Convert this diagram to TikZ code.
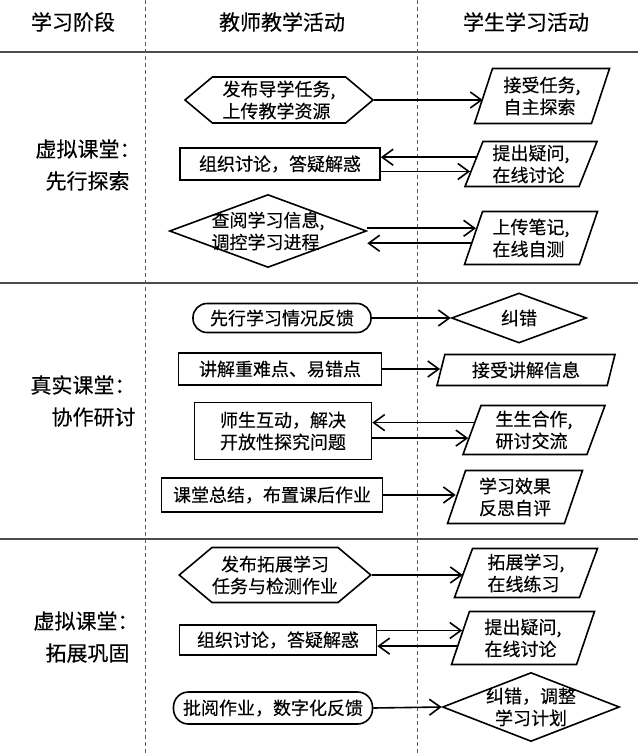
\documentclass[tikz,border=0pt]{standalone}
\usepackage{fontspec}
\setmainfont{Noto Sans CJK SC}[FakeBold=0.3]
\usetikzlibrary{arrows.meta,shapes.geometric,shapes.symbols}

\tikzset{
  box/.style={draw,line width=1.6pt,inner sep=0pt,font=\fontsize{18}{22}\selectfont,align=center},
  rbox/.style={box,rectangle},
  oval/.style={box,rectangle,rounded corners=14pt},
  hexa/.style={box,signal,signal to=west and east,signal pointer angle=80,align=left},
  dia/.style={box,diamond,aspect=2.6,inner sep=-6pt},
  para/.style={box,trapezium,trapezium left angle=65,trapezium right angle=115,
    trapezium stretches body,align=left},
  arr/.style={line width=1.6pt,-{Straight Barb[length=11pt,width=16pt]}},
  sep/.style={line width=1.2pt,black!70},
  col/.style={line width=1pt,black!65,dash pattern=on 4pt off 3pt},
  head/.style={font=\fontsize{21}{26}\selectfont},
  stage/.style={font=\fontsize{21}{32}\selectfont,align=left,anchor=west}
}

\begin{document}
\begin{tikzpicture}[x=1pt,y=-1pt]
  \useasboundingbox (0,0) rectangle (640,755);

  %table lines
  \draw[sep] (0,52) -- (638,52);
  \draw[sep] (0,283) -- (638,283);
  \draw[sep] (0,539) -- (638,539);
  \draw[col] (145,0) -- (145,755);
  \draw[col] (417,0) -- (417,755);

  %heads
  \node[head] (h1) at (73,22) {学习阶段};
  \node[head] (h2) at (282,22) {教师教学活动};
  \node[head] (h3) at (526,22) {学生学习活动};

  %stages
  \node[stage] (s1) at (32,165) {虚拟课堂：\\\hspace*{10pt}先行探索};
  \node[stage] (s2) at (27,401) {真实课堂：\\\hspace*{21pt}协作研讨};
  \node[stage] (s3) at (30,637) {虚拟课堂：\\\hspace*{12pt}拓展巩固};

  % first stage
  \node[hexa,minimum width=188pt,minimum height=46pt] (t1) at (279,100) {发布导学任务,\\上传教学资源};
  \node[para,minimum width=135pt,minimum height=55pt] (p1) at (542,96) {接受任务,\\自主探索};
  \draw[arr] (t1.east) -- (t1.east -| p1.west);

  \node[rbox,minimum width=200pt,minimum height=32pt] (t2) at (280,164) {组织讨论，答疑解惑};
  \node[para,minimum width=132pt,minimum height=45pt] (p2) at (531,164) {提出疑问,\\在线讨论};
  \draw[arr] (p2.173) -- (p2.173 -| t2.east);
  \draw[arr] (p2.187 -| t2.east) -- (p2.187);

  \node[dia,minimum width=197pt,minimum height=73pt,align=left] (t3) at (268,231) {查阅学习信息,\\调控学习进程};
  \node[para,minimum width=133pt,minimum height=53pt] (p3) at (531,238) {上传笔记,\\在线自测};
  \draw[arr] (p3.170 -| t3.east) -- (p3.170);
  \draw[arr] (p3.185) -- (p3.185 -| t3.east);

  % second stage
  \node[oval,minimum width=178pt,minimum height=29pt] (t4) at (282,318) {先行学习情况反馈};
  \node[dia,minimum width=135pt,minimum height=50pt] (p4) at (519,318) {纠错};
  \draw[arr] (t4.east) -- (p4.west);

  \node[rbox,minimum width=203pt,minimum height=32pt] (t5) at (280,369) {讲解重难点、易错点};
  \node[para,minimum width=178pt,minimum height=31pt] (p5) at (526,370) {接受讲解信息};
  \draw[arr] (t5.east) -- (t5.east -| p5.west);

  \node[rbox,minimum width=177pt,minimum height=57pt] (t6) at (283,431) {师生互动，解决\\开放性探究问题};
  \node[para,minimum width=142pt,minimum height=49pt] (p6) at (534,430) {生生合作,\\研讨交流};
  \draw[arr] (p6.173) -- (p6.173 -| t6.east);
  \draw[arr] (p6.187 -| t6.east) -- (p6.187);

  \node[rbox,minimum width=221pt,minimum height=34pt] (t7) at (272,495) {课堂总结，布置课后作业};
  \node[para,minimum width=135pt,minimum height=53pt] (p7) at (515,497) {学习效果\\反思自评};
  \draw[arr] (t7.east) -- (t7.east -| p7.west);

  % third stage
  \node[hexa,minimum width=181pt,minimum height=55pt,align=center] (t8) at (275,575) {发布拓展学习\\任务与检测作业};
  \node[para,minimum width=143pt,minimum height=49pt] (p8) at (526,573) {拓展学习,\\在线练习};
  \draw[arr] (t8.east) -- (t8.east -| p8.west);

  \node[rbox,minimum width=197pt,minimum height=30pt] (t9) at (278,640) {组织讨论，答疑解惑};
  \node[para,minimum width=143pt,minimum height=53pt] (p9) at (523,638) {提出疑问,\\在线讨论};
  \draw[arr] (p9.173 -| t9.east) -- (p9.173);
  \draw[arr] (p9.187) -- (p9.187 -| t9.east);

  \node[oval,rounded corners=15pt,minimum width=199pt,minimum height=32pt] (t10) at (273,708) {批阅作业，数字化反馈};
  \node[dia,minimum width=177pt,minimum height=69pt] (p10) at (531,707) {纠错，调整\\学习计划};
  \draw[arr] (t10.east) -- (p10.west);
\end{tikzpicture}
\end{document}
